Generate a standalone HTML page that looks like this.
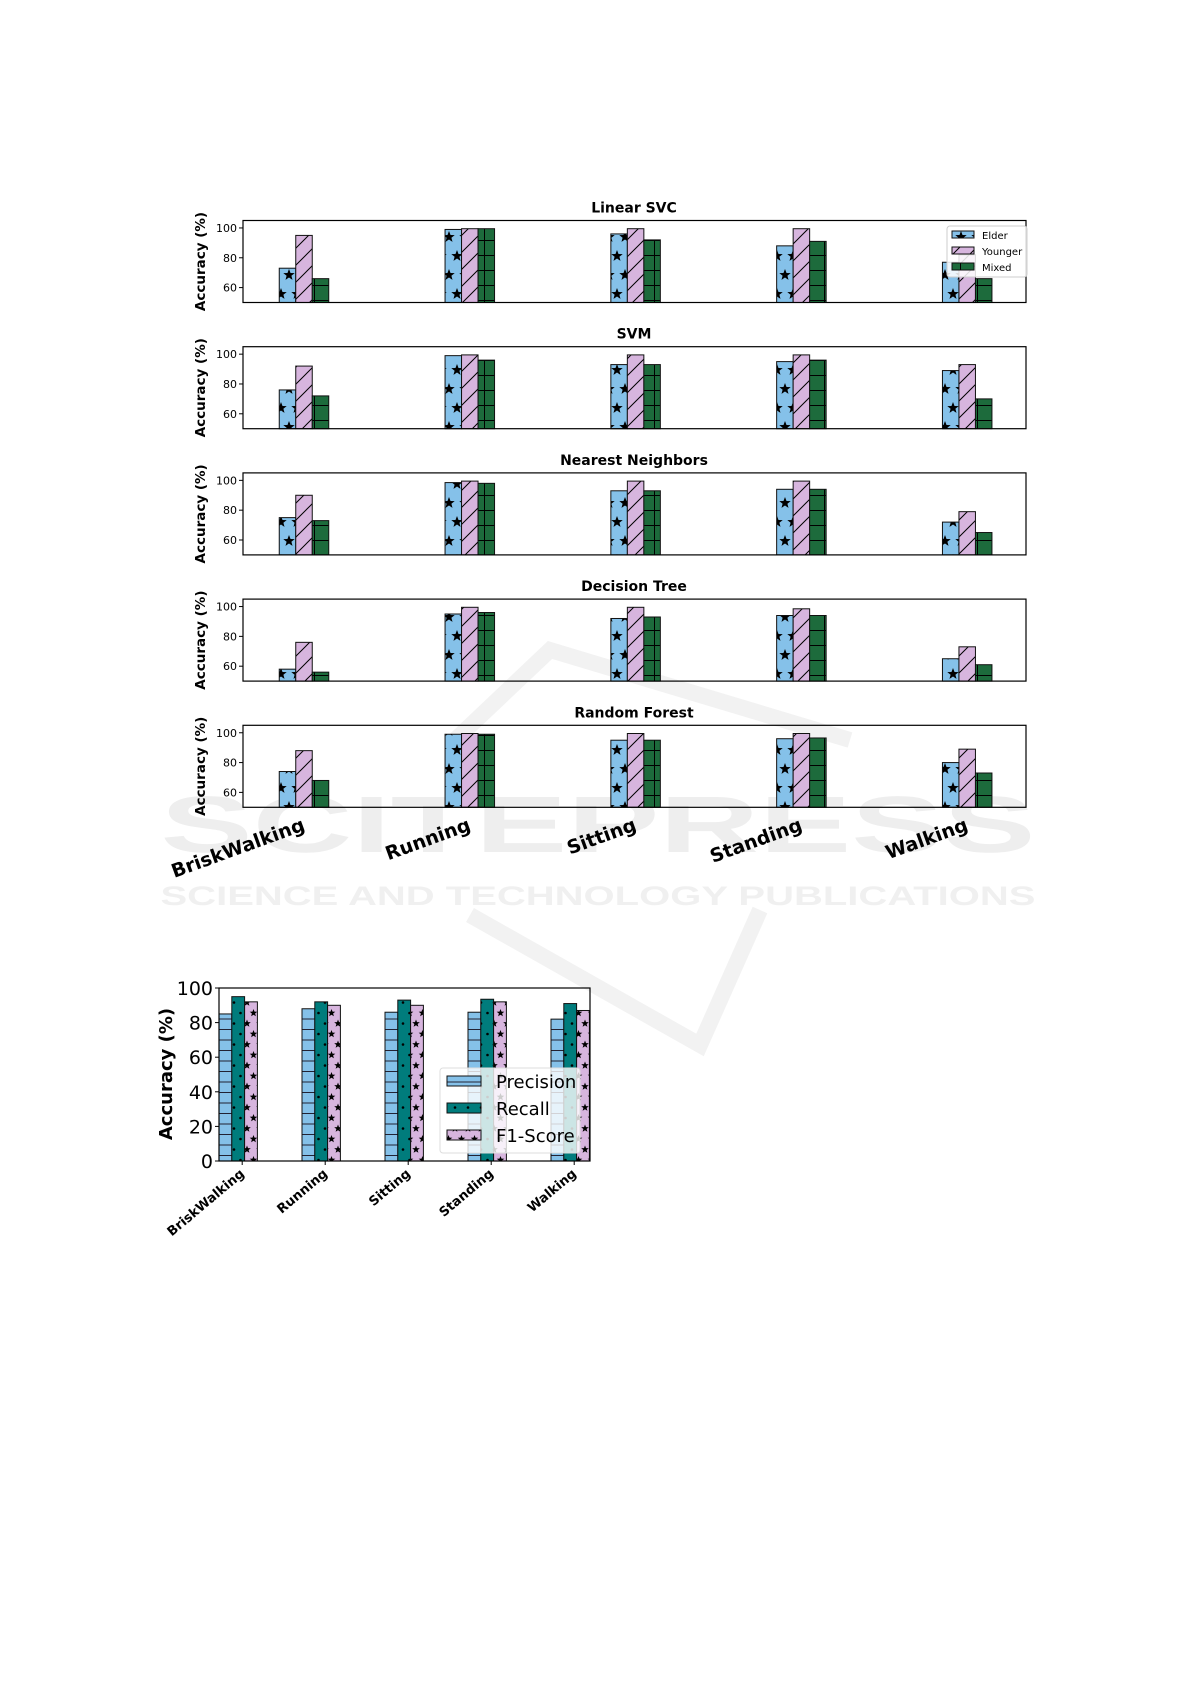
<!DOCTYPE html>
<html><head><meta charset="utf-8"><style>
html,body{margin:0;padding:0;background:#fff;}
svg{display:block;font-family:"DejaVu Sans","Liberation Sans",sans-serif;}
</style></head><body>
<svg id="s" width="1191" height="1684" viewBox="0 0 1191 1684" xmlns="http://www.w3.org/2000/svg"></svg>
<script>
function star(cx,cy,R){var r=R*0.42,p=[];for(var i=0;i<10;i++){var a=-Math.PI/2+i*Math.PI/5,rr=i%2?r:R;p.push((cx+rr*Math.cos(a)).toFixed(1)+','+(cy+rr*Math.sin(a)).toFixed(1));}return '<polygon points="'+p.join(' ')+'" fill="#000"/>';}
var h='<defs>';
h+='<pattern id="pStar" patternUnits="userSpaceOnUse" width="16" height="38"><rect width="16" height="38" fill="#85c1e9"/>'+star(1,9,6)+star(9,28,6)+star(17,9,6)+'</pattern>';
h+='<pattern id="pSl" patternUnits="userSpaceOnUse" width="17" height="17"><rect width="17" height="17" fill="#d7b5de"/><path d="M0 17L17 0M-4 4L4 -4M13 21L21 13" stroke="#000" stroke-width="1"/></pattern>';
h+='<pattern id="pGr" patternUnits="userSpaceOnUse" width="17" height="15"><rect width="17" height="15" fill="#1d6b3c"/><path d="M8.5 0V15M0 0.5H17" stroke="#000" stroke-width="1"/></pattern>';
h+='<pattern id="bH" patternUnits="userSpaceOnUse" width="13" height="10.5"><rect width="13" height="10.5" fill="#85c1e9"/><path d="M0 0.5H13" stroke="#223" stroke-width="1"/></pattern>';
h+='<pattern id="bD" patternUnits="userSpaceOnUse" width="13" height="21"><rect width="13" height="21" fill="#007c7c"/><circle cx="6.5" cy="5" r="1.3" fill="#000"/><circle cx="0" cy="15.5" r="1.3" fill="#000"/><circle cx="13" cy="15.5" r="1.3" fill="#000"/></pattern>';
h+='<pattern id="bS" patternUnits="userSpaceOnUse" width="13" height="21"><rect width="13" height="21" fill="#d7b5de"/>'+star(6.5,5,4)+star(0,15.5,4)+star(13,15.5,4)+'</pattern>';
h+='</defs>';
// watermark
h+='<text x="598" y="852" text-anchor="middle" font-size="80" font-weight="bold" fill="#eeeeee" textLength="875" lengthAdjust="spacingAndGlyphs" font-family="Liberation Sans,sans-serif">SCITEPRESS</text>';
h+='<text x="598" y="905" text-anchor="middle" font-size="27" font-weight="bold" fill="#f0f0f0" textLength="875" lengthAdjust="spacingAndGlyphs" font-family="Liberation Sans,sans-serif">SCIENCE AND TECHNOLOGY PUBLICATIONS</text>';
h+='<path d="M455 740 L550 650 L850 740 M470 915 L700 1045 L760 910" stroke="#f2f2f2" stroke-width="16" fill="none"/>';
var titles=["Linear SVC","SVM","Nearest Neighbors","Decision Tree","Random Forest"];
var data=[
[[73,95,66],[99,99.5,99.5],[96,99.5,92],[88,99.5,91],[77,82,66]],
[[76,92,72],[99,99.5,96],[93,99.5,93],[95,99.5,96],[89,93,70]],
[[75,90,73],[98.5,99.5,98],[93,99.5,93],[94,99.5,94],[72,79,65]],
[[58,76,56],[95,99.5,96],[92,99.5,93],[94,98.5,94],[65,73,61]],
[[74,88,68],[99,99.5,99],[95,99.5,95],[96,99.5,96.5],[80,89,73]]];
var fills=["url(#pStar)","url(#pSl)","url(#pGr)"];
var L=243,R=1026,W=16.5,PH=82,GS=165.8;
function Y(pt,v){return pt+(105-v)/55*PH;}
for(var p=0;p<5;p++){
 var pt=220.5+p*126.2;
 h+='<text x="634" y="'+(pt-8)+'" text-anchor="middle" font-size="14" font-weight="bold">'+titles[p]+'</text>';
 for(var g=0;g<5;g++){var c=304+g*GS;
  for(var k=0;k<3;k++){var x=c-W*1.5+k*W,y=Y(pt,data[p][g][k]);
   h+='<rect x="'+x+'" y="'+y+'" width="'+W+'" height="'+(pt+PH-y)+'" fill="'+fills[k]+'" stroke="#111" stroke-width="1"/>';}}
 h+='<rect x="'+L+'" y="'+pt+'" width="'+(R-L)+'" height="'+PH+'" fill="none" stroke="#000" stroke-width="1.2"/>';
 [100,80,60].forEach(function(v){var y=Y(pt,v);h+='<line x1="'+(L-4)+'" y1="'+y+'" x2="'+L+'" y2="'+y+'" stroke="#000"/><text x="'+(L-6)+'" y="'+(y+4)+'" text-anchor="end" font-size="11">'+v+'</text>';});
 h+='<text transform="translate(205,'+(pt+PH/2)+') rotate(-90)" text-anchor="middle" font-size="13.5" font-weight="bold">Accuracy (%)</text>';
}
// legend
h+='<rect x="947" y="226" width="80" height="51" rx="3" fill="#fff" fill-opacity="0.85" stroke="#ccc"/>';
var ln=["Elder","Younger","Mixed"];
for(var k=0;k<3;k++){var y=231+k*16;h+='<rect x="952" y="'+y+'" width="22" height="7" fill="'+fills[k]+'" stroke="#111"/><text x="982" y="'+(y+8)+'" font-size="10">'+ln[k]+'</text>';}
var cats=["BriskWalking","Running","Sitting","Standing","Walking"];
for(var g=0;g<5;g++){var c=304+g*GS;h+='<text transform="translate('+(c+2)+',830) rotate(-20)" text-anchor="end" font-size="19" font-weight="bold">'+cats[g]+'</text>';}
// bottom chart
var bd=[[85,95,92],[88,92,90],[86,93,90],[86,93.5,92],[82,91,87]];
var bf=["url(#bH)","url(#bD)","url(#bS)"];
var bL=219,bR=590,bT=988,bB=1161,bw=12.8;
function BY(v){return bB-(v/100)*(bB-bT);}
for(var g=0;g<5;g++){var x0=bL+g*83;
 for(var k=0;k<3;k++){var y=BY(bd[g][k]);h+='<rect x="'+(x0+k*bw)+'" y="'+y+'" width="'+bw+'" height="'+(bB-y)+'" fill="'+bf[k]+'" stroke="#111" stroke-width="1"/>';}
 var tx=x0+bw*1.5+4;
 h+='<line x1="'+tx+'" y1="'+bB+'" x2="'+tx+'" y2="'+(bB+4)+'" stroke="#000"/>';
 h+='<text transform="translate('+(tx+3)+','+(bB+14)+') rotate(-40)" text-anchor="end" font-size="13" font-weight="bold">'+cats[g]+'</text>';}
h+='<rect x="'+bL+'" y="'+bT+'" width="'+(bR-bL)+'" height="'+(bB-bT)+'" fill="none" stroke="#000" stroke-width="1.2"/>';
for(var v=0;v<=100;v+=20){var y=BY(v);h+='<line x1="'+(bL-4)+'" y1="'+y+'" x2="'+bL+'" y2="'+y+'" stroke="#000"/><text x="'+(bL-6)+'" y="'+(y+7)+'" text-anchor="end" font-size="19">'+v+'</text>';}
h+='<text transform="translate(172,1074) rotate(-90)" text-anchor="middle" font-size="18" font-weight="bold">Accuracy (%)</text>';
h+='<rect x="440" y="1068" width="140" height="85" rx="3" fill="#fff" fill-opacity="0.8" stroke="#ddd"/>';
var bl=["Precision","Recall","F1-Score"];
for(var k=0;k<3;k++){var y=1076+k*27;h+='<rect x="447" y="'+y+'" width="34" height="10" fill="'+bf[k]+'" stroke="#111"/><text x="496" y="'+(y+12)+'" font-size="18">'+bl[k]+'</text>';}
document.getElementById('s').innerHTML=h;
</script>
</body></html>
